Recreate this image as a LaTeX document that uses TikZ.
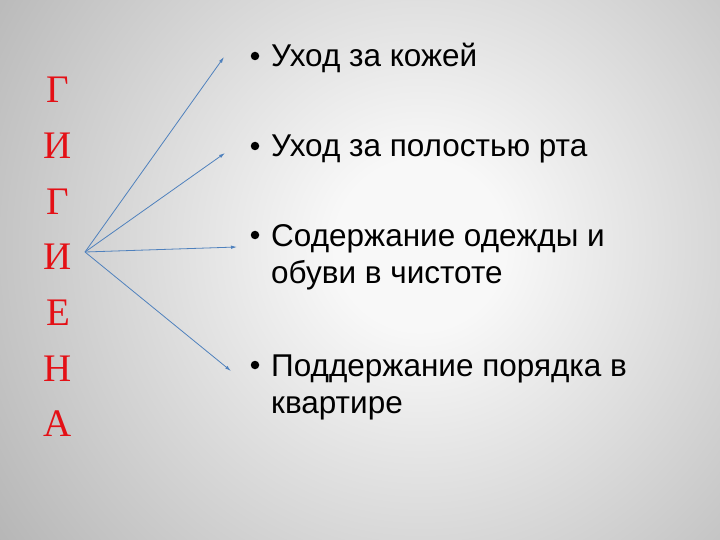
\documentclass[tikz,border=0pt]{standalone}
\usepackage{fontspec}
\setmainfont{Liberation Serif}
\newfontfamily\bodyfont{Liberation Sans}
\usetikzlibrary{arrows.meta}
\definecolor{letterred}{RGB}{228,16,22}
\definecolor{arrowblue}{RGB}{79,129,189}
\definecolor{edgegray}{RGB}{150,150,150}
\definecolor{midgray}{RGB}{170,170,170}
\definecolor{centerwhite}{RGB}{248,248,248}
\pgfdeclareradialshading{bgshade}{\pgfpoint{0bp}{0bp}}{color(0bp)=(centerwhite); color(3bp)=(centerwhite); color(21bp)=(midgray); color(25bp)=(edgegray); color(50bp)=(edgegray)}
\tikzset{
  letter/.style={anchor=base, inner sep=0pt, text=letterred, font=\fontsize{39}{39}\selectfont},
  item/.style={anchor=base west, inner sep=0pt, text=black, font=\bodyfont\fontsize{31.5}{37}\selectfont},
  bulletmark/.style={circle, fill=black, inner sep=0pt, minimum size=8.5pt},
  ray/.style={draw=arrowblue, line width=0.8pt, -{Latex[length=6pt,width=3.5pt]}}
}
\begin{document}
\begin{tikzpicture}[x=1pt,y=-1pt]
\useasboundingbox (0,0) rectangle (720,540);
\fill[edgegray] (0,0) rectangle (720,540);
\begin{scope}
\clip (0,0) rectangle (720,540);
\shade[shading=bgshade] (420,245) circle (707);
\end{scope}
% letters
\node[letter] (l1) at (58,103) {Г};
\node[letter] (l2) at (58,158.6) {И};
\node[letter] (l3) at (58,214.2) {Г};
\node[letter] (l4) at (58,269.8) {И};
\node[letter] (l5) at (58,325.4) {Е};
\node[letter] (l6) at (58,381) {Н};
\node[letter] (l7) at (58,436.6) {А};
% items
\node[item] (t1) at (271,67) {Уход за кожей};
\node[item] (t2) at (271,157) {Уход за полостью рта};
\node[item] (t3a) at (271,246) {Содержание одежды и};
\node[item] (t3b) at (271,283) {обуви в чистоте};
\node[item] (t4a) at (271,376) {Поддержание порядка в};
\node[item] (t4b) at (271,413) {квартире};
\node[bulletmark] (b1) at (255,56) {};
\node[bulletmark] (b2) at (255,146) {};
\node[bulletmark] (b3) at (255,235) {};
\node[bulletmark] (b4) at (255,365) {};
% arrows
\coordinate (o) at (85,252);
\coordinate (e1) at (224,57);
\coordinate (e2) at (225,153);
\coordinate (e3) at (237,247);
\coordinate (e4) at (231,371);
\draw[ray] (o) -- (e1);
\draw[ray] (o) -- (e2);
\draw[ray] (o) -- (e3);
\draw[ray] (o) -- (e4);
\end{tikzpicture}
\end{document}
